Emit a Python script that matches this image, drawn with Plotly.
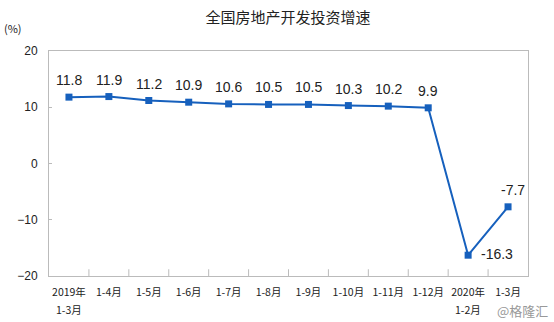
import plotly.graph_objects as go

categories = ["2019年", "1-4月", "1-5月", "1-6月", "1-7月", "1-8月", "1-9月",
              "1-10月", "1-11月", "1-12月", "2020年", "1-3月"]
sub_labels = ["1-3月", "", "", "", "", "", "", "", "", "", "1-2月", ""]
values = [11.8, 11.9, 11.2, 10.9, 10.6, 10.5, 10.5, 10.3, 10.2, 9.9, -16.3, -7.7]
labels = ["11.8", "11.9", "11.2", "10.9", "10.6", "10.5", "10.5", "10.3", "10.2", "9.9", "-16.3", "-7.7"]
y_ticks = [-20, -10, 0, 10, 20]

idx = list(range(len(categories)))
color = "#1660bd"

fig = go.Figure()
fig.add_trace(go.Scatter(
    x=idx, y=values, mode="lines+markers",
    line=dict(color=color, width=2),
    marker=dict(symbol="square", size=7, color=color),
    cliponaxis=False, hoverinfo="skip",
))

for i, (v, t) in enumerate(zip(values, labels)):
    if t == "-16.3":
        fig.add_annotation(x=i, y=v, text=t, showarrow=False, xshift=29, yshift=1,
                           font=dict(family="Liberation Sans, Arial", size=14, color="#222"))
    elif t == "-7.7":
        fig.add_annotation(x=i, y=v, text=t, showarrow=False, xshift=5, yshift=17,
                           font=dict(family="Liberation Sans, Arial", size=14, color="#222"))
    else:
        fig.add_annotation(x=i, y=v, text=t, showarrow=False, yshift=17,
                           font=dict(family="Liberation Sans, Arial", size=14, color="#222"))

for i, s in enumerate(sub_labels):
    if s:
        fig.add_annotation(x=i, y=0, xref="x", yref="paper", text=s, showarrow=False,
                           yanchor="middle", yshift=-33,
                           font=dict(family="Noto Sans CJK SC", size=10.5, color="#222"))

fig.update_layout(
    width=554, height=322,
    margin=dict(l=49, r=26, t=51, b=46),
    paper_bgcolor="white", plot_bgcolor="white",
    showlegend=False,
    title=dict(text="全国房地产开发投资增速", x=0.52, xanchor="center", y=0.945, yanchor="middle",
               font=dict(family="Noto Sans CJK SC", size=15, color="#222")),
    xaxis=dict(
        range=[-0.5, len(categories) - 0.5],
        tickmode="array", tickvals=idx, ticktext=categories,
        showgrid=False, zeroline=False,
        showline=True, linecolor="#bbbbbb", linewidth=1, mirror=True,
        ticks="", tickfont=dict(family="Noto Sans CJK SC", size=10.5, color="#222"),
        ticklabelstandoff=6,
    ),
    yaxis=dict(
        range=[-20, 20], tickvals=y_ticks,
        showgrid=False, zeroline=False,
        showline=True, linecolor="#bbbbbb", linewidth=1, mirror=True,
        ticks="inside", ticklen=3, tickcolor="#bbbbbb",
        tickfont=dict(family="Liberation Sans, Arial", size=12, color="#222"),
        ticklabelstandoff=8,
    ),
)

# category separator ticks
for i in range(1, len(categories)):
    fig.add_shape(type="line", xref="x", yref="paper", x0=i - 0.5, x1=i - 0.5, y0=0, y1=0.03,
                  line=dict(color="#bbbbbb", width=1))

fig.add_annotation(text="(%)", xref="paper", yref="paper", x=-0.075, y=1.1, xanchor="center", yanchor="middle",
                   showarrow=False, font=dict(family="Noto Sans CJK SC", size=11, color="#222"))
fig.add_annotation(text="@格隆汇", xref="paper", yref="paper", x=1.045, y=-0.155, xanchor="right", yanchor="middle",
                   showarrow=False, font=dict(family="Noto Sans CJK SC", size=13, color="#999"))

fig.write_html("out.html")
